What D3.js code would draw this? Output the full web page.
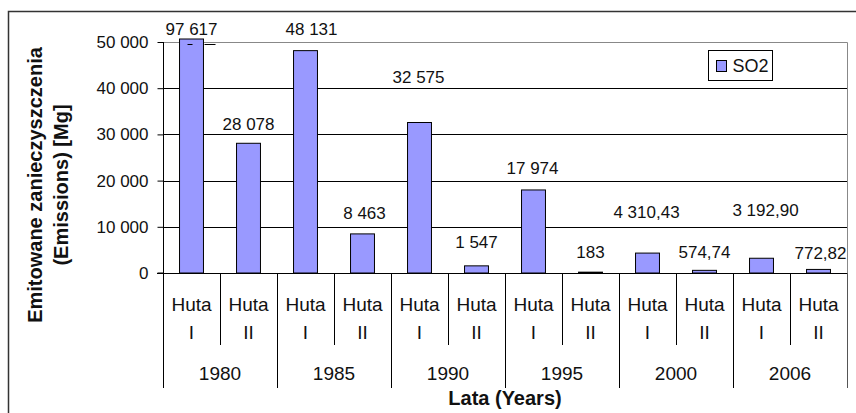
<!DOCTYPE html>
<html>
<head>
<meta charset="utf-8">
<script src="https://cdn.jsdelivr.net/npm/d3@7"></script>
<style>
  body { margin: 0; background: #fff; }
  text { font-family: "Liberation Sans", Arial, sans-serif; fill: #111; }
</style>
</head>
<body>
<div id="chart"></div>
<script>
// data
var years = ["1980", "1985", "1990", "1995", "2000", "2006"];
var plants = ["Huta I", "Huta II"];
var so2 = [97617, 28078, 48131, 8463, 32575, 1547, 17974, 183, 4310.43, 574.74, 3192.90, 772.82];
var yTicks = [0, 10000, 20000, 30000, 40000, 50000];
var seriesName = "SO2";

// label nudges (px) so they sit where the original had them
var labelLift = [13, 19, 22, 21, 46, 24, 22, 20, 41, 18, 48, 17];
var labelShift = [0, 0, 6, 2, -1, 0, -1, 0, -1, 0, 4, 2];

var width = 856, height = 413;
var margin = { top: 42, right: 9, bottom: 140, left: 163 };

var pl = d3.formatLocale({ decimal: ",", thousands: " ", grouping: [3], currency: ["", ""] });
var fmtInt = pl.format(",.0f");
var fmtDec = pl.format(",.2f");

var rows = [];
years.forEach(function (yr, i) {
  plants.forEach(function (p, j) {
    rows.push({ key: yr + "-" + j, year: yr, plant: p, value: so2[i * 2 + j], idx: i * 2 + j });
  });
});

var svg = d3.select("#chart").append("svg")
  .attr("width", width)
  .attr("height", height);

svg.append("rect").attr("width", width).attr("height", height).attr("fill", "#fff");

// outer frame (only top and left are visible in the crop)
svg.append("path")
  .attr("d", "M8.5," + (height + 2) + "V11.5H" + (width + 2))
  .attr("fill", "none")
  .attr("stroke", "#333")
  .attr("stroke-width", 1.5);

var x0 = margin.left, x1 = width - margin.right;
var yBase = height - margin.bottom;

var x = d3.scaleBand().domain(rows.map(function (d) { return d.key; })).range([x0, x1]).padding(0);
var y = d3.scaleLinear().domain([0, 50000]).range([yBase, margin.top]);
var barW = x.bandwidth() * 0.42;

// gridlines
svg.append("g").selectAll("line")
  .data(yTicks.filter(function (t) { return t > 0 && t < 50000; }))
  .join("line")
  .attr("x1", x0).attr("x2", x1)
  .attr("y1", function (d) { return Math.round(y(d)) + 0.5; })
  .attr("y2", function (d) { return Math.round(y(d)) + 0.5; })
  .attr("stroke", "#000").attr("stroke-width", 1);

// plot border top / right (grey)
svg.append("path")
  .attr("d", "M" + x0 + "," + (Math.round(y(50000)) + 0.5) + "H" + (x1 + 0.5) + "V" + yBase)
  .attr("fill", "none").attr("stroke", "#888").attr("stroke-width", 1);

// bars
svg.append("g").selectAll("rect")
  .data(rows)
  .join("rect")
  .attr("x", function (d) { return x(d.key) + (x.bandwidth() - barW) / 2; })
  .attr("width", barW)
  .attr("y", function (d) { return d.value > 50000 ? y(50000) - 3 : y(d.value); })
  .attr("height", function (d) { return yBase - (d.value > 50000 ? y(50000) - 3 : y(d.value)); })
  .attr("fill", "#9999ff")
  .attr("stroke", "#000")
  .attr("stroke-width", 1);

// break marks on the clipped bar
var first = rows[0];
svg.append("line")
  .attr("x1", x(first.key) + (x.bandwidth() - barW) / 2 + 8)
  .attr("x2", x(first.key) + (x.bandwidth() - barW) / 2 + 36)
  .attr("y1", y(50000) + 2.5).attr("y2", y(50000) + 2.5)
  .attr("stroke", "#000").attr("stroke-width", 1)
  .attr("stroke-dasharray", "5,12,11");

// value labels
svg.append("g").selectAll("text")
  .data(rows)
  .join("text")
  .attr("x", function (d) { return x(d.key) + x.bandwidth() / 2 + labelShift[d.idx]; })
  .attr("y", function (d) { return y(Math.min(d.value, 50000)) - labelLift[d.idx]; })
  .attr("dy", "0.36em")
  .attr("text-anchor", "middle")
  .style("font-size", "17px")
  .text(function (d) { return Number.isInteger(d.value) ? fmtInt(d.value) : fmtDec(d.value); });

// y axis
var yAxis = d3.axisLeft(y).tickValues(yTicks).tickSize(6).tickPadding(9)
  .tickFormat(function (d) { return fmtInt(d); });
var gy = svg.append("g").attr("transform", "translate(" + (x0 + 0.5) + ",0)").call(yAxis);
gy.selectAll("path.domain").attr("stroke", "#000").attr("d", "M-6," + y(0) + "H0V" + y(50000));
gy.selectAll("line").attr("stroke", "#000");
gy.selectAll("text").style("font-size", "17px").style("font-family", "Liberation Sans, Arial, sans-serif").attr("fill", "#111");

// x axis line
svg.append("line")
  .attr("x1", x0 - 6).attr("x2", x1 + 0.5)
  .attr("y1", yBase + 0.5).attr("y2", yBase + 0.5)
  .attr("stroke", "#000");

// category separators: short between plants, long between years
var bounds = d3.range(rows.length + 1);
svg.append("g").selectAll("line")
  .data(bounds)
  .join("line")
  .attr("x1", function (i) { return Math.round(x0 + i * x.step()) + 0.5; })
  .attr("x2", function (i) { return Math.round(x0 + i * x.step()) + 0.5; })
  .attr("y1", yBase)
  .attr("y2", function (i) { return i % 2 === 0 ? 388 : 345; })
  .attr("stroke", function (i) { return i === rows.length ? "#555" : "#000"; })
  .attr("stroke-width", 1);

// plant labels (two lines)
var cat = svg.append("g").selectAll("text")
  .data(rows)
  .join("text")
  .attr("text-anchor", "middle")
  .style("font-size", "19px");
cat.append("tspan")
  .attr("x", function (d) { return x(d.key) + x.bandwidth() / 2; })
  .attr("y", 311)
  .text(function (d) { return d.plant.split(" ")[0]; });
cat.append("tspan")
  .attr("x", function (d) { return x(d.key) + x.bandwidth() / 2; })
  .attr("y", 339)
  .text(function (d) { return d.plant.split(" ")[1]; });

// year labels
svg.append("g").selectAll("text")
  .data(years)
  .join("text")
  .attr("x", function (d, i) { return x0 + (i * 2 + 1) * x.step(); })
  .attr("y", 380)
  .attr("text-anchor", "middle")
  .style("font-size", "19px")
  .text(function (d) { return d; });

// axis titles
svg.append("text")
  .attr("x", (x0 + x1) / 2)
  .attr("y", 405)
  .attr("text-anchor", "middle")
  .style("font-size", "20px")
  .style("font-weight", "bold")
  .text("Lata (Years)");

var yt = svg.append("text")
  .attr("transform", "translate(0,185) rotate(-90)")
  .attr("text-anchor", "middle")
  .style("font-size", "20px")
  .style("font-weight", "bold");
yt.append("tspan").attr("x", 0).attr("y", 42).text("Emitowane zanieczyszczenia");
yt.append("tspan").attr("x", 0).attr("y", 68).text("(Emissions) [Mg]");

// legend
var lg = svg.append("g").attr("transform", "translate(708.5,50.5)");
lg.append("rect").attr("width", 64).attr("height", 30).attr("fill", "#fff").attr("stroke", "#000");
lg.append("rect").attr("x", 8).attr("y", 10).attr("width", 10).attr("height", 11)
  .attr("fill", "#9999ff").attr("stroke", "#000");
lg.append("text").attr("x", 24).attr("y", 21).style("font-size", "18px").text(seriesName);
</script>
</body>
</html>
